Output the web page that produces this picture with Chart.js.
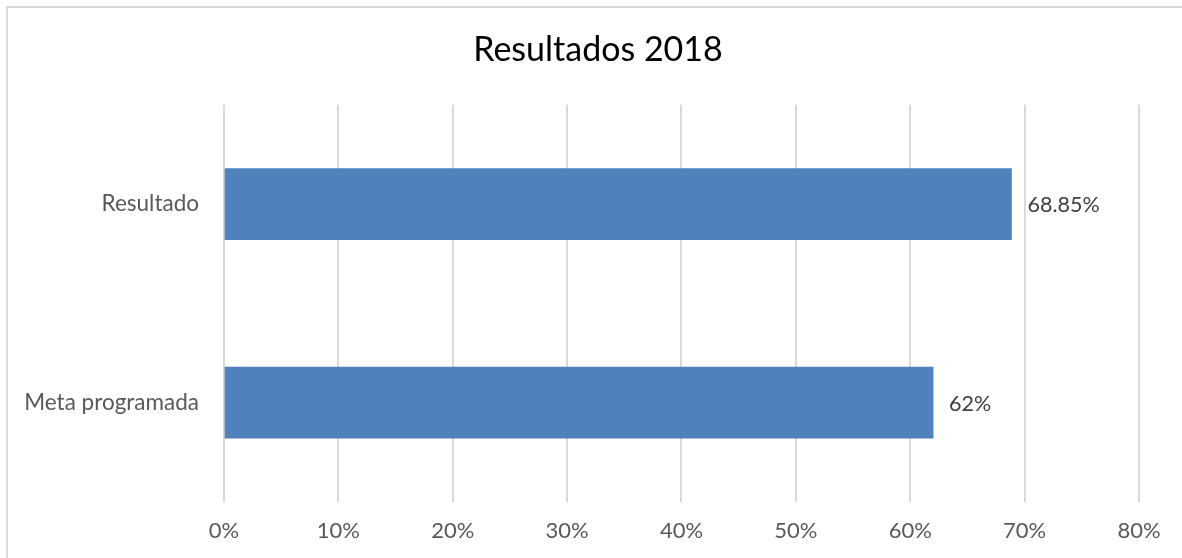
<!DOCTYPE html>
<html>
<head>
<meta charset="utf-8">
<script src="https://cdn.jsdelivr.net/npm/chart.js@4/dist/chart.umd.min.js"></script>
<style>
  html, body { margin: 0; padding: 0; background: #fff; overflow: hidden; }
  .marco { position: absolute; left: 6px; top: 6px; width: 1300px; height: 700px;
           border-left: 2px solid #d9d9d9; border-top: 2px solid #d9d9d9; }
  #grafico { position: absolute; left: 0; top: 0; }
</style>
</head>
<body>
<div class="marco"></div>
<canvas id="grafico" width="1182" height="558"></canvas>
<script>
const categorias = ["Resultado", "Meta programada"];
const valores = [68.85, 62];
const etiquetas = ["68.85%", "62%"];
const ticksX = [0, 10, 20, 30, 40, 50, 60, 70, 80];
// el eje llega un poco mas alla del 80% para dejar margen a la derecha
const maxX = 83.76;

const fuente = "Lato, 'Open Sans', sans-serif";

// dibuja las etiquetas de datos a la derecha de cada barra
const etiquetasDatos = {
    id: "etiquetasDatos",
    afterDatasetsDraw(chart) {
        const ctx = chart.ctx;
        const meta = chart.getDatasetMeta(0);
        ctx.save();
        ctx.font = "21.5px " + fuente;
        ctx.fillStyle = "#404040";
        ctx.textAlign = "left";
        ctx.textBaseline = "middle";
        meta.data.forEach((barra, i) => {
            ctx.fillText(etiquetas[i], barra.x + 16, barra.y + 1);
        });
        ctx.restore();
    }
};

new Chart(document.getElementById("grafico"), {
    type: "bar",
    data: {
        labels: categorias,
        datasets: [{
            data: valores,
            backgroundColor: "#4f81bd",
            borderWidth: 0,
            barThickness: 71
        }]
    },
    options: {
        indexAxis: "y",
        responsive: false,
        animation: false,
        layout: { padding: { left: 14, right: 0, top: 0, bottom: 0 } },
        plugins: {
            legend: { display: false },
            tooltip: { enabled: false },
            title: {
                display: true,
                text: "Resultados 2018",
                color: "#000000",
                font: { family: fuente, size: 34, weight: "normal" },
                padding: { top: 30, bottom: 34 }
            }
        },
        scales: {
            x: {
                min: 0,
                max: maxX,
                afterBuildTicks: (scale) => {
                    scale.ticks = ticksX.map(v => ({ value: v }));
                },
                afterFit: (scale) => { scale.height = 56; },
                border: { display: false },
                grid: { color: "#d9d9d9", lineWidth: 2, drawTicks: false },
                ticks: {
                    padding: 16,
                    color: "#595959",
                    font: { family: fuente, size: 22 },
                    callback: (v) => v + "%"
                }
            },
            y: {
                afterFit: (scale) => { scale.width = 210; },
                border: { display: false },
                grid: { display: false, drawTicks: false },
                ticks: {
                    padding: 25,
                    color: "#595959",
                    font: { family: fuente, size: 22.5 }
                }
            }
        }
    },
    plugins: [etiquetasDatos]
});
</script>
</body>
</html>
